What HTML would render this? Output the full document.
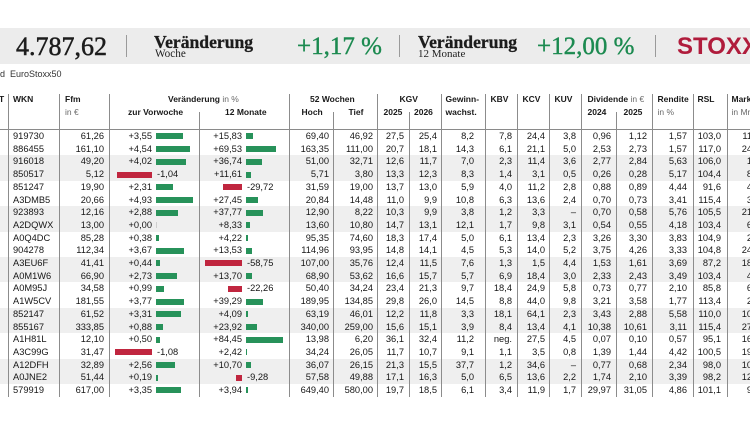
<!DOCTYPE html>
<html><head><meta charset="utf-8">
<style>
html,body{margin:0;padding:0}
body{width:750px;height:421px;overflow:hidden;background:#fff;position:relative;font-family:"Liberation Sans",sans-serif;color:#1a1a1a}
.a{position:absolute;white-space:nowrap}
.band{position:absolute;left:0;top:28px;width:750px;height:36px;background:#ececec}
.sep{position:absolute;top:35px;width:1px;height:22px;background:#9a9a9a}
.serif{font-family:"Liberation Serif",serif}
.big{font-size:26px;line-height:26px;color:#1c1c1c;-webkit-text-stroke:0.5px #1c1c1c}
.grn{font-size:25px;line-height:25px;color:#1c8a50;-webkit-text-stroke:0.4px #1c8a50}
.vb{font-size:17.6px;line-height:17.6px;font-weight:bold;color:#1c1c1c;-webkit-text-stroke:0.3px #1c1c1c}
.sub{font-size:11.2px;line-height:11.2px;color:#222}
.h{font-size:8.5px;line-height:10px;font-weight:bold;color:#1a1a1a}
.hg{font-weight:normal;color:#6a6a6a}
.vl{position:absolute;width:1px;background:#8c8c8c}
#tb{position:absolute;left:0;top:130px;width:780px}
.r{display:grid;grid-template-columns:8px 51px 50px 90px 90px 44px 44px 32px 32px 44px 32px 32px 32px 35px 36px 41px 34px 53px;height:12.71px;line-height:12.71px;font-size:9.3px;white-space:nowrap;color:#161616}
.r.s{background:#efefef}
.r>span{text-align:right;position:relative}
.r>span:nth-child(2){text-align:left;padding-left:5px}
.r>span:nth-child(3){padding-right:5px}
.r>span:nth-child(6){padding-right:4px}
.r>span:nth-child(7){padding-right:4px}
.r>span:nth-child(8){padding-right:5px}
.r>span:nth-child(9){padding-right:4px}
.r>span:nth-child(10){padding-right:11px}
.r>span:nth-child(11){padding-right:5px}
.r>span:nth-child(12){padding-right:4px}
.r>span:nth-child(13){padding-right:5px}
.r>span:nth-child(14){padding-right:5px}
.r>span:nth-child(15){padding-right:5px}
.r>span:nth-child(16){padding-right:6px}
.r>span:nth-child(17){padding-right:6px}
.r>span:nth-child(18){padding-right:15px}
.p{position:absolute;right:47px;font-style:normal}
.n{position:absolute;left:48px;font-style:normal}
.g{position:absolute;left:47.3px;top:3.4px;height:6px;background:#27925a}
.rd{position:absolute;right:47px;top:3.4px;height:6px;background:#c0263f}
.z{background:#cfcfcf}
</style></head><body>

<div class="band"></div>
<div class="a serif big" style="left:16px;top:34px">4.787,62</div>
<div class="sep" style="left:126px"></div>
<div class="a serif vb" style="left:154px;top:34.3px">Veränderung</div>
<div class="a serif sub" style="left:155px;top:48.9px">Woche</div>
<div class="a serif grn" style="left:297px;top:34px">+1,17 %</div>
<div class="sep" style="left:399px"></div>
<div class="a serif vb" style="left:418px;top:34.3px">Veränderung</div>
<div class="a serif sub" style="left:418px;top:48.9px;font-size:11px">12 Monate</div>
<div class="a serif grn" style="left:537px;top:34px">+12,00 %</div>
<div class="sep" style="left:655px"></div>
<div class="a" style="left:677px;top:34.7px;font-size:24px;line-height:24px;font-weight:bold;color:#b01c3c">STOXX</div>

<div class="a" style="left:0;top:69px;font-size:9px;line-height:10px;color:#333">d&nbsp;&nbsp;EuroStoxx50</div>

<!-- table header -->
<div class="a h" style="left:-1px;top:93.75px">T</div>
<div class="a h" style="left:13px;top:93.75px">WKN</div>
<div class="a h" style="left:65px;top:93.75px">Ffm</div>
<div class="a h hg" style="left:65px;top:106.75px">in €</div>
<div class="a h" style="left:168px;top:93.75px">Veränderung <span class="hg">in %</span></div>
<div class="a h" style="left:128px;top:106.75px">zur Vorwoche</div>
<div class="a h" style="left:225px;top:106.75px">12 Monate</div>
<div class="a h" style="left:310px;top:93.75px">52 Wochen</div>
<div class="a h" style="left:301.5px;top:106.75px">Hoch</div>
<div class="a h" style="left:348.5px;top:106.75px">Tief</div>
<div class="a h" style="left:399.5px;top:93.75px">KGV</div>
<div class="a h" style="left:383.5px;top:106.75px">2025</div>
<div class="a h" style="left:414px;top:106.75px">2026</div>
<div class="a h" style="left:445.5px;top:93.75px">Gewinn-</div>
<div class="a h" style="left:445.5px;top:106.75px">wachst.</div>
<div class="a h" style="left:490.5px;top:93.75px">KBV</div>
<div class="a h" style="left:522.5px;top:93.75px">KCV</div>
<div class="a h" style="left:554.5px;top:93.75px">KUV</div>
<div class="a h" style="left:587.5px;top:93.75px">Dividende <span class="hg">in €</span></div>
<div class="a h" style="left:587.5px;top:106.75px">2024</div>
<div class="a h" style="left:623.5px;top:106.75px">2025</div>
<div class="a h" style="left:657.5px;top:93.75px">Rendite</div>
<div class="a h hg" style="left:657.5px;top:106.75px">in %</div>
<div class="a h" style="left:697.5px;top:93.75px">RSL</div>
<div class="a h" style="left:731.5px;top:93.75px">Markt</div>
<div class="a h hg" style="left:731.5px;top:106.75px">in Mrd.</div>

<div id="tb">
<div class="r"><span></span><span>919730</span><span>61,26</span><span><i class="p">+3,55</i><b class="g" style="width:26.4px"></b></span><span><i class="p">+15,83</i><b class="g" style="width:6.9px"></b></span><span>69,40</span><span>46,92</span><span>27,5</span><span>25,4</span><span>8,2</span><span>7,8</span><span>24,4</span><span>3,8</span><span>0,96</span><span>1,12</span><span>1,57</span><span>103,0</span><span>117,8</span></div>
<div class="r"><span></span><span>886455</span><span>161,10</span><span><i class="p">+4,54</i><b class="g" style="width:33.8px"></b></span><span><i class="p">+69,53</i><b class="g" style="width:30.2px"></b></span><span>163,35</span><span>111,00</span><span>20,7</span><span>18,1</span><span>14,3</span><span>6,1</span><span>21,1</span><span>5,0</span><span>2,53</span><span>2,73</span><span>1,57</span><span>117,0</span><span>243,5</span></div>
<div class="r s"><span></span><span>916018</span><span>49,20</span><span><i class="p">+4,02</i><b class="g" style="width:30px"></b></span><span><i class="p">+36,74</i><b class="g" style="width:16px"></b></span><span>51,00</span><span>32,71</span><span>12,6</span><span>11,7</span><span>7,0</span><span>2,3</span><span>11,4</span><span>3,6</span><span>2,77</span><span>2,84</span><span>5,63</span><span>106,0</span><span>18,3</span></div>
<div class="r s"><span></span><span>850517</span><span>5,12</span><span><b class="rd" style="width:35.4px"></b><i class="n">-1,04</i></span><span><i class="p">+11,61</i><b class="g" style="width:5px"></b></span><span>5,71</span><span>3,80</span><span>13,3</span><span>12,3</span><span>8,3</span><span>1,4</span><span>3,1</span><span>0,5</span><span>0,26</span><span>0,28</span><span>5,17</span><span>104,4</span><span>83,2</span></div>
<div class="r"><span></span><span>851247</span><span>19,90</span><span><i class="p">+2,31</i><b class="g" style="width:17.2px"></b></span><span><b class="rd" style="width:18.7px"></b><i class="n">-29,72</i></span><span>31,59</span><span>19,00</span><span>13,7</span><span>13,0</span><span>5,9</span><span>4,0</span><span>11,2</span><span>2,8</span><span>0,88</span><span>0,89</span><span>4,44</span><span>91,6</span><span>45,1</span></div>
<div class="r"><span></span><span>A3DMB5</span><span>20,66</span><span><i class="p">+4,93</i><b class="g" style="width:36.7px"></b></span><span><i class="p">+27,45</i><b class="g" style="width:11.9px"></b></span><span>20,84</span><span>14,48</span><span>11,0</span><span>9,9</span><span>10,8</span><span>6,3</span><span>13,6</span><span>2,4</span><span>0,70</span><span>0,73</span><span>3,41</span><span>115,4</span><span>31,7</span></div>
<div class="r s"><span></span><span>923893</span><span>12,16</span><span><i class="p">+2,88</i><b class="g" style="width:21.5px"></b></span><span><i class="p">+37,77</i><b class="g" style="width:16.4px"></b></span><span>12,90</span><span>8,22</span><span>10,3</span><span>9,9</span><span>3,8</span><span>1,2</span><span>3,3</span><span>–</span><span>0,70</span><span>0,58</span><span>5,76</span><span>105,5</span><span>214,6</span></div>
<div class="r s"><span></span><span>A2DQWX</span><span>13,00</span><span><i class="p">+0,00</i><b class="g z" style="width:1px"></b></span><span><i class="p">+8,33</i><b class="g" style="width:3.6px"></b></span><span>13,60</span><span>10,80</span><span>14,7</span><span>13,1</span><span>12,1</span><span>1,7</span><span>9,8</span><span>3,1</span><span>0,54</span><span>0,55</span><span>4,18</span><span>103,4</span><span>62,4</span></div>
<div class="r"><span></span><span>A0Q4DC</span><span>85,28</span><span><i class="p">+0,38</i><b class="g" style="width:2.8px"></b></span><span><i class="p">+4,22</i><b class="g" style="width:1.8px"></b></span><span>95,35</span><span>74,60</span><span>18,3</span><span>17,4</span><span>5,0</span><span>6,1</span><span>13,4</span><span>2,3</span><span>3,26</span><span>3,30</span><span>3,83</span><span>104,9</span><span>27,5</span></div>
<div class="r"><span></span><span>904278</span><span>112,34</span><span><i class="p">+3,67</i><b class="g" style="width:27.3px"></b></span><span><i class="p">+13,53</i><b class="g" style="width:5.9px"></b></span><span>114,96</span><span>93,95</span><span>14,8</span><span>14,1</span><span>4,5</span><span>5,3</span><span>14,0</span><span>5,2</span><span>3,75</span><span>4,26</span><span>3,33</span><span>104,8</span><span>241,3</span></div>
<div class="r s"><span></span><span>A3EU6F</span><span>41,41</span><span><i class="p">+0,44</i><b class="g" style="width:3.3px"></b></span><span><b class="rd" style="width:37px"></b><i class="n">-58,75</i></span><span>107,00</span><span>35,76</span><span>12,4</span><span>11,5</span><span>7,6</span><span>1,3</span><span>1,5</span><span>4,4</span><span>1,53</span><span>1,61</span><span>3,69</span><span>87,2</span><span>182,1</span></div>
<div class="r s"><span></span><span>A0M1W6</span><span>66,90</span><span><i class="p">+2,73</i><b class="g" style="width:20.3px"></b></span><span><i class="p">+13,70</i><b class="g" style="width:6px"></b></span><span>68,90</span><span>53,62</span><span>16,6</span><span>15,7</span><span>5,7</span><span>6,9</span><span>18,4</span><span>3,0</span><span>2,33</span><span>2,43</span><span>3,49</span><span>103,4</span><span>44,2</span></div>
<div class="r"><span></span><span>A0M95J</span><span>34,58</span><span><i class="p">+0,99</i><b class="g" style="width:7.4px"></b></span><span><b class="rd" style="width:14px"></b><i class="n">-22,26</i></span><span>50,40</span><span>34,24</span><span>23,4</span><span>21,3</span><span>9,7</span><span>18,4</span><span>24,9</span><span>5,8</span><span>0,73</span><span>0,77</span><span>2,10</span><span>85,8</span><span>61,9</span></div>
<div class="r"><span></span><span>A1W5CV</span><span>181,55</span><span><i class="p">+3,77</i><b class="g" style="width:28.1px"></b></span><span><i class="p">+39,29</i><b class="g" style="width:17.1px"></b></span><span>189,95</span><span>134,85</span><span>29,8</span><span>26,0</span><span>14,5</span><span>8,8</span><span>44,0</span><span>9,8</span><span>3,21</span><span>3,58</span><span>1,77</span><span>113,4</span><span>23,6</span></div>
<div class="r s"><span></span><span>852147</span><span>61,52</span><span><i class="p">+3,31</i><b class="g" style="width:24.7px"></b></span><span><i class="p">+4,09</i><b class="g" style="width:1.8px"></b></span><span>63,19</span><span>46,01</span><span>12,2</span><span>11,8</span><span>3,3</span><span>18,1</span><span>64,1</span><span>2,3</span><span>3,43</span><span>2,88</span><span>5,58</span><span>110,0</span><span>104,3</span></div>
<div class="r s"><span></span><span>855167</span><span>333,85</span><span><i class="p">+0,88</i><b class="g" style="width:6.6px"></b></span><span><i class="p">+23,92</i><b class="g" style="width:10.4px"></b></span><span>340,00</span><span>259,00</span><span>15,6</span><span>15,1</span><span>3,9</span><span>8,4</span><span>13,4</span><span>4,1</span><span>10,38</span><span>10,61</span><span>3,11</span><span>115,4</span><span>271,2</span></div>
<div class="r"><span></span><span>A1H81L</span><span>12,10</span><span><i class="p">+0,50</i><b class="g" style="width:3.7px"></b></span><span><i class="p">+84,45</i><b class="g" style="width:36.7px"></b></span><span>13,98</span><span>6,20</span><span>36,1</span><span>32,4</span><span>11,2</span><span>neg.</span><span>27,5</span><span>4,5</span><span>0,07</span><span>0,10</span><span>0,57</span><span>95,1</span><span>162,8</span></div>
<div class="r"><span></span><span>A3C99G</span><span>31,47</span><span><b class="rd" style="width:36.7px"></b><i class="n">-1,08</i></span><span><i class="p">+2,42</i><b class="g" style="width:1.1px"></b></span><span>34,24</span><span>26,05</span><span>11,7</span><span>10,7</span><span>9,1</span><span>1,1</span><span>3,5</span><span>0,8</span><span>1,39</span><span>1,44</span><span>4,42</span><span>100,5</span><span>193,4</span></div>
<div class="r s"><span></span><span>A12DFH</span><span>32,89</span><span><i class="p">+2,56</i><b class="g" style="width:19.1px"></b></span><span><i class="p">+10,70</i><b class="g" style="width:4.7px"></b></span><span>36,07</span><span>26,15</span><span>21,3</span><span>15,5</span><span>37,7</span><span>1,2</span><span>34,6</span><span>–</span><span>0,77</span><span>0,68</span><span>2,34</span><span>98,0</span><span>102,7</span></div>
<div class="r s"><span></span><span>A0JNE2</span><span>51,44</span><span><i class="p">+0,19</i><b class="g" style="width:1.4px"></b></span><span><b class="rd" style="width:5.8px"></b><i class="n">-9,28</i></span><span>57,58</span><span>49,88</span><span>17,1</span><span>16,3</span><span>5,0</span><span>6,5</span><span>13,6</span><span>2,2</span><span>1,74</span><span>2,10</span><span>3,39</span><span>98,2</span><span>124,6</span></div>
<div class="r"><span></span><span>579919</span><span>617,00</span><span><i class="p">+3,35</i><b class="g" style="width:25px"></b></span><span><i class="p">+3,94</i><b class="g" style="width:1.7px"></b></span><span>649,40</span><span>580,00</span><span>19,7</span><span>18,5</span><span>6,1</span><span>3,4</span><span>11,9</span><span>1,7</span><span>29,97</span><span>31,05</span><span>4,86</span><span>101,1</span><span>95,3</span></div>
</div>

<!-- header bottom rule -->
<div class="a" style="left:0;top:129px;width:750px;height:1px;background:#8a8a8a"></div>

<!-- vertical rules -->
<div class="vl" style="left:8px;top:94px;height:303px"></div>
<div class="vl" style="left:59px;top:94px;height:303px"></div>
<div class="vl" style="left:109px;top:94px;height:303px"></div>
<div class="vl" style="left:199px;top:112px;height:285px"></div>
<div class="vl" style="left:289px;top:94px;height:303px"></div>
<div class="vl" style="left:333px;top:112px;height:285px"></div>
<div class="vl" style="left:377px;top:94px;height:303px"></div>
<div class="vl" style="left:409px;top:112px;height:285px"></div>
<div class="vl" style="left:441px;top:94px;height:303px"></div>
<div class="vl" style="left:485px;top:94px;height:303px"></div>
<div class="vl" style="left:517px;top:94px;height:303px"></div>
<div class="vl" style="left:549px;top:94px;height:303px"></div>
<div class="vl" style="left:581px;top:94px;height:303px"></div>
<div class="vl" style="left:616px;top:112px;height:285px"></div>
<div class="vl" style="left:652px;top:94px;height:303px"></div>
<div class="vl" style="left:693px;top:94px;height:303px"></div>
<div class="vl" style="left:727px;top:94px;height:303px"></div>

</body></html>
